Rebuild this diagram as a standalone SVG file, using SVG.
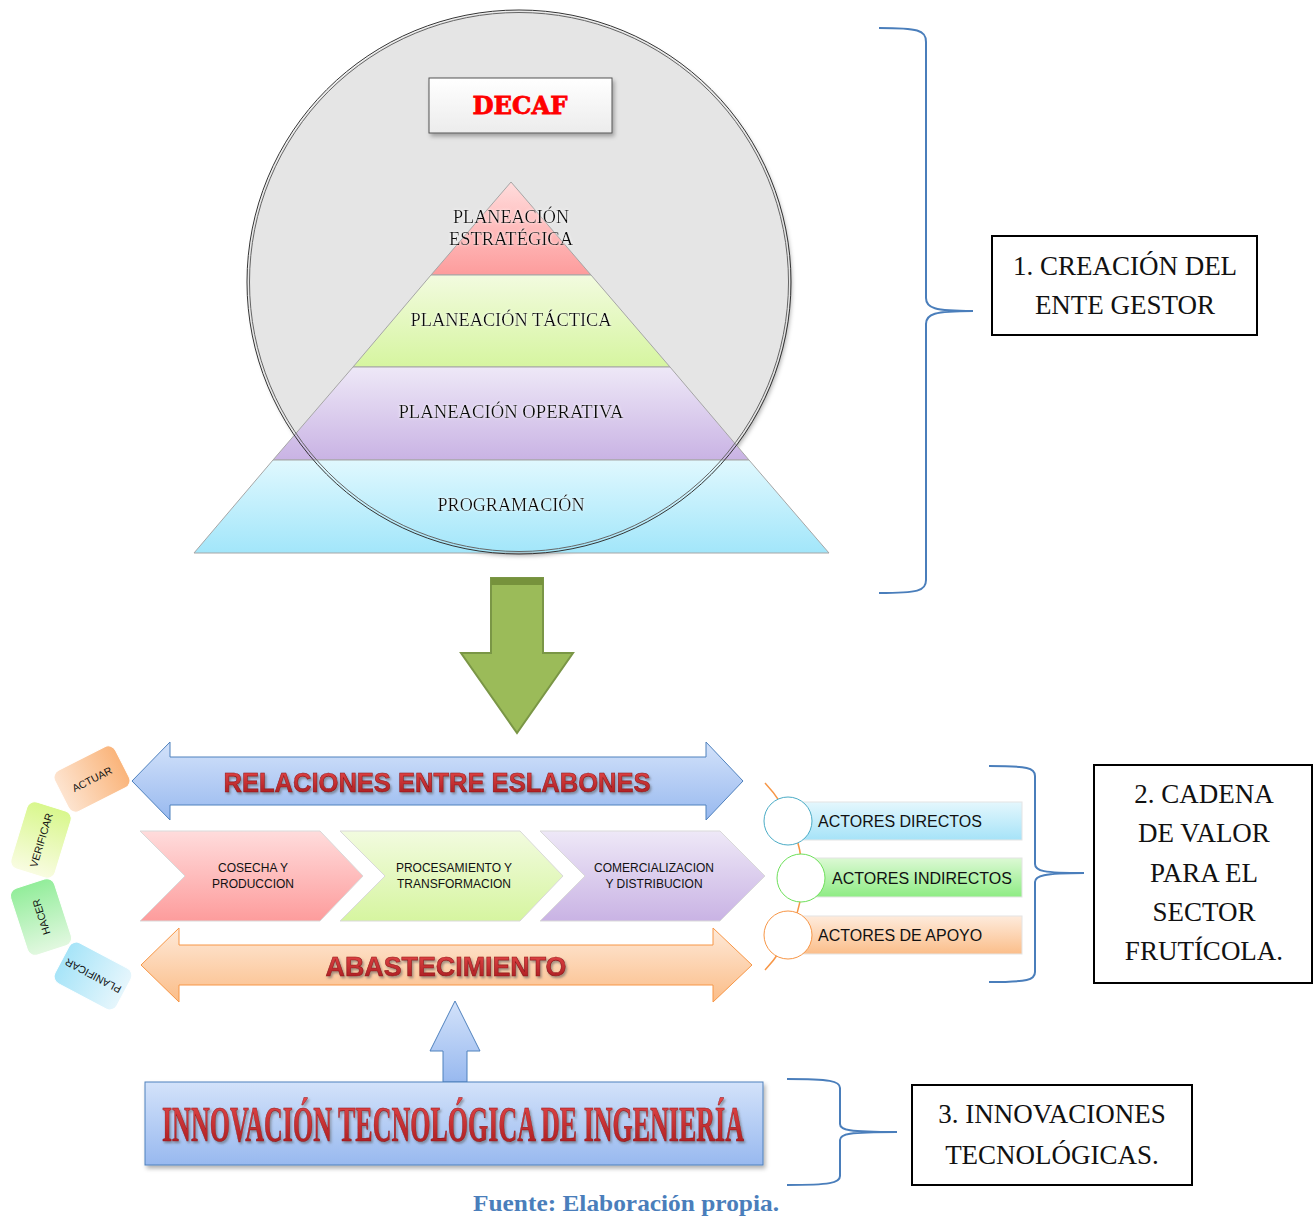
<svg xmlns="http://www.w3.org/2000/svg" width="1314" height="1216" viewBox="0 0 1314 1216">
  <defs>
    <linearGradient id="gPink" x1="0" y1="0" x2="0" y2="1"><stop offset="0" stop-color="#ffdcdc"/><stop offset="1" stop-color="#fd9c9c"/></linearGradient>
    <linearGradient id="gLime" x1="0" y1="0" x2="0" y2="1"><stop offset="0" stop-color="#f2fbdf"/><stop offset="1" stop-color="#d6f5a0"/></linearGradient>
    <linearGradient id="gLilac" x1="0" y1="0" x2="0" y2="1"><stop offset="0" stop-color="#eee8f7"/><stop offset="1" stop-color="#c9b3e4"/></linearGradient>
    <linearGradient id="gSky" x1="0" y1="0" x2="0" y2="1"><stop offset="0" stop-color="#e0f8fe"/><stop offset="1" stop-color="#a2e6fa"/></linearGradient>
    <linearGradient id="gBox" x1="0" y1="0" x2="0" y2="1"><stop offset="0" stop-color="#ffffff"/><stop offset="1" stop-color="#ececec"/></linearGradient>
    <linearGradient id="gBlue" x1="0" y1="0" x2="0" y2="1"><stop offset="0" stop-color="#d3e2fa"/><stop offset="1" stop-color="#98b9ef"/></linearGradient>
    <linearGradient id="gOrange" x1="0" y1="0" x2="0" y2="1"><stop offset="0" stop-color="#fee9d8"/><stop offset="1" stop-color="#fbbd88"/></linearGradient>
    <linearGradient id="gActBlue" x1="0" y1="0" x2="0" y2="1"><stop offset="0" stop-color="#e4f7fd"/><stop offset="1" stop-color="#a6e3f8"/></linearGradient>
    <linearGradient id="gActGreen" x1="0" y1="0" x2="0" y2="1"><stop offset="0" stop-color="#dcf9d4"/><stop offset="1" stop-color="#8eec84"/></linearGradient>
    <linearGradient id="gActOrange" x1="0" y1="0" x2="0" y2="1"><stop offset="0" stop-color="#feebdc"/><stop offset="1" stop-color="#fbbe8a"/></linearGradient>
    <linearGradient id="gCardO" x1="0" y1="0" x2="1" y2="0"><stop offset="0" stop-color="#fde4d0"/><stop offset="1" stop-color="#fab47a"/></linearGradient>
    <linearGradient id="gCardY" x1="0" y1="0" x2="1" y2="0"><stop offset="0" stop-color="#f9fce2"/><stop offset="1" stop-color="#d8f78c"/></linearGradient>
    <linearGradient id="gCardG" x1="0" y1="0" x2="1" y2="0"><stop offset="0" stop-color="#e2f8e0"/><stop offset="1" stop-color="#92ed9a"/></linearGradient>
    <linearGradient id="gCardB" x1="0" y1="0" x2="1" y2="0"><stop offset="0" stop-color="#e6f6fc"/><stop offset="1" stop-color="#a6e4f8"/></linearGradient>
    <linearGradient id="gRed" x1="0" y1="0" x2="0" y2="1"><stop offset="0" stop-color="#e8494b"/><stop offset="1" stop-color="#a3191c"/></linearGradient>
    <filter id="shadow" x="-10%" y="-10%" width="130%" height="140%">
      <feDropShadow dx="2" dy="3" stdDeviation="2" flood-color="#000" flood-opacity="0.3"/>
    </filter>
    <filter id="txtShadow" x="-5%" y="-20%" width="110%" height="150%">
      <feDropShadow dx="1.5" dy="2" stdDeviation="1" flood-color="#555" flood-opacity="0.55"/>
    </filter>
    <filter id="glow" x="-10%" y="-30%" width="120%" height="160%">
      <feDropShadow dx="0" dy="0" stdDeviation="1.5" flood-color="#fff" flood-opacity="0.9"/>
    </filter>
  </defs>
  <style>
    .layer { stroke: #a6a6a6; stroke-width: 1; }
    .pyr { font-family: "Liberation Serif", "DejaVu Serif", serif; font-size: 18px; fill: #111; text-anchor: middle; }
    .label { font-family: "Liberation Serif", "DejaVu Serif", serif; font-size: 27px; fill: #111; text-anchor: middle; }
    .frame { fill: #fff; stroke: #000; stroke-width: 2; }
    .brace { fill: none; stroke: #4a7ebb; stroke-width: 2; }
    .chev { stroke: #d9d9d9; stroke-width: 1; }
    .chevTxt { font-family: "Liberation Sans", Arial, sans-serif; font-size: 12px; fill: #111; text-anchor: middle; }
    .card { stroke: #ffffff; stroke-width: 1; }
    .cardTxt { font-family: "Liberation Sans", Arial, sans-serif; font-size: 10.5px; fill: #111; text-anchor: middle; }
    .actor { font-family: "Liberation Sans", Arial, sans-serif; font-size: 16px; fill: #111; }
    .big { font-family: "Liberation Sans", Arial, sans-serif; font-weight: bold; fill: url(#gRed); stroke: #8e1416; stroke-width: 0.6; text-anchor: middle; }
  </style>

  <!-- DECAF circle -->
  <g id="decaf-circle">
    <circle cx="519" cy="282" r="271" fill="#e5e5e5" filter="url(#shadow)"/>
  </g>

  <!-- Planning pyramid -->
  <g id="pyramid">
    <polygon class="layer" points="511,182 591,275 431,275" fill="url(#gPink)"/>
    <polygon class="layer" points="431,275 591,275 670,367 353,367" fill="url(#gLime)"/>
    <polygon class="layer" points="353,367 670,367 749,460 273,460" fill="url(#gLilac)"/>
    <polygon class="layer" points="273,460 749,460 829,553 194,553" fill="url(#gSky)"/>
    <g filter="url(#glow)">
      <text class="pyr" x="511" y="223" textLength="116" lengthAdjust="spacingAndGlyphs">PLANEACIÓN</text>
      <text class="pyr" x="511" y="245" textLength="124" lengthAdjust="spacingAndGlyphs">ESTRATÉGICA</text>
      <text class="pyr" x="511" y="326" textLength="201" lengthAdjust="spacingAndGlyphs">PLANEACIÓN  TÁCTICA</text>
      <text class="pyr" x="511" y="418" textLength="225" lengthAdjust="spacingAndGlyphs">PLANEACIÓN  OPERATIVA</text>
      <text class="pyr" x="511" y="511" textLength="147" lengthAdjust="spacingAndGlyphs">PROGRAMACIÓN</text>
    </g>
  </g>

  <!-- circle outline drawn over the pyramid (double ring) -->
  <g id="decaf-ring" fill="none" stroke="#333" stroke-width="1">
    <circle cx="519" cy="282" r="272"/>
    <circle cx="519" cy="282" r="269.5" stroke="#666"/>
  </g>

  <g id="decaf-title">
    <rect x="429" y="78" width="183" height="55" fill="url(#gBox)" stroke="#555" stroke-width="1" filter="url(#shadow)"/>
    <text x="520" y="114" font-family="'DejaVu Serif', 'Liberation Serif', serif" font-weight="bold" font-size="24" fill="#ff0000" stroke="#ff0000" stroke-width="0.8" text-anchor="middle" textLength="95" lengthAdjust="spacingAndGlyphs">DECAF</text>
  </g>

  <!-- green transition arrow -->
  <g id="down-arrow">
    <polygon points="491,578 543,578 543,653 573,653 517,733 461,653 491,653" fill="#9bbb59" stroke="#7a9646" stroke-width="2" stroke-linejoin="miter"/>
    <rect x="491" y="578" width="52" height="7" fill="#76923c"/>
  </g>

  <!-- PDCA cards -->
  <g id="pdca">
    <g id="card-actuar" transform="translate(92,779) rotate(-27)">
      <rect class="card" x="-34" y="-23" width="68" height="46" rx="8" fill="url(#gCardO)"/>
      <text class="cardTxt" x="0" y="4">ACTUAR</text>
    </g>
    <g id="card-verificar" transform="translate(41,840) rotate(-73)">
      <rect class="card" x="-35" y="-23" width="70" height="46" rx="8" fill="url(#gCardY)"/>
      <text class="cardTxt" x="0" y="4">VERIFICAR</text>
    </g>
    <g id="card-hacer" transform="translate(41,917) rotate(-108)">
      <rect class="card" x="-35" y="-23" width="70" height="46" rx="8" fill="url(#gCardG)"/>
      <text class="cardTxt" x="0" y="4">HACER</text>
    </g>
    <g id="card-planificar" transform="translate(93,976) rotate(208)">
      <rect class="card" x="-35" y="-23" width="70" height="46" rx="8" fill="url(#gCardB)"/>
      <text class="cardTxt" x="0" y="4">PLANIFICAR</text>
    </g>
  </g>

  <!-- double arrows of the value chain -->
  <g id="relaciones">
    <polygon points="132,781 170,742 170,757 706,757 706,742 743,781 706,820 706,805 170,805 170,820" fill="url(#gBlue)" stroke="#4f81bd" stroke-width="1"/>
    <text class="big" x="437" y="792" font-size="28" textLength="427" lengthAdjust="spacingAndGlyphs" filter="url(#txtShadow)">RELACIONES ENTRE ESLABONES</text>
  </g>

  <g id="abastecimiento">
    <polygon points="141,965 179,928 179,945 713,945 713,928 752,965 713,1002 713,985 179,985 179,1002" fill="url(#gOrange)" stroke="#f79646" stroke-width="1"/>
    <text class="big" x="446" y="976" font-size="28" textLength="241" lengthAdjust="spacingAndGlyphs" filter="url(#txtShadow)">ABASTECIMIENTO</text>
  </g>

  <!-- chain links -->
  <g id="chain">
    <g id="link-cosecha">
      <polygon class="chev" points="140,831 320,831 363,876 320,921 140,921 185,876" fill="url(#gPink)"/>
      <text class="chevTxt" x="253" y="872">COSECHA Y</text>
      <text class="chevTxt" x="253" y="888">PRODUCCION</text>
    </g>
    <g id="link-procesamiento">
      <polygon class="chev" points="340,831 520,831 563,876 520,921 340,921 385,876" fill="url(#gLime)"/>
      <text class="chevTxt" x="454" y="872">PROCESAMIENTO Y</text>
      <text class="chevTxt" x="454" y="888">TRANSFORMACION</text>
    </g>
    <g id="link-comercializacion">
      <polygon class="chev" points="540,831 720,831 765,876 720,921 540,921 585,876" fill="url(#gLilac)"/>
      <text class="chevTxt" x="654" y="872">COMERCIALIZACION</text>
      <text class="chevTxt" x="654" y="888">Y DISTRIBUCION</text>
    </g>
  </g>

  <!-- actors list -->
  <g id="actors">
    <path d="M765,783 A136,136 0 0 1 765,970" fill="none" stroke="#f79646" stroke-width="1.5"/>
    <g id="actor-directos">
      <rect x="800" y="802" width="222" height="38" fill="url(#gActBlue)" stroke="#e4e4e4"/>
      <circle cx="788" cy="821" r="24" fill="#fff" stroke="#4bacc6" stroke-width="1"/>
      <text class="actor" x="818" y="827">ACTORES DIRECTOS</text>
    </g>
    <g id="actor-indirectos">
      <rect x="813" y="858" width="209" height="39" fill="url(#gActGreen)" stroke="#e4e4e4"/>
      <circle cx="801" cy="878" r="24" fill="#fff" stroke="#6ee05a" stroke-width="1"/>
      <text class="actor" x="832" y="884">ACTORES INDIRECTOS</text>
    </g>
    <g id="actor-apoyo">
      <rect x="800" y="916" width="222" height="38" fill="url(#gActOrange)" stroke="#e4e4e4"/>
      <circle cx="788" cy="935" r="24" fill="#fff" stroke="#f79646" stroke-width="1"/>
      <text class="actor" x="818" y="941">ACTORES DE APOYO</text>
    </g>
  </g>

  <!-- technology innovation block -->
  <g id="innovacion">
    <polygon points="455,1001 480,1051 467,1051 467,1082 443,1082 443,1051 430,1051" fill="url(#gBlue)" stroke="#4f81bd" stroke-width="1"/>
    <rect x="145" y="1082" width="618" height="83" fill="url(#gBlue)" stroke="#4f81bd" stroke-width="1" filter="url(#shadow)"/>
    <text x="453" y="1141" font-family="'Liberation Serif', 'DejaVu Serif', serif" font-weight="bold" font-size="50" fill="url(#gRed)" stroke="#8e1416" stroke-width="0.6" text-anchor="middle" textLength="582" lengthAdjust="spacingAndGlyphs" filter="url(#txtShadow)">INNOVACIÓN TECNOLÓGICA DE INGENIERÍA</text>
  </g>

  <!-- braces -->
  <g id="connectors">
    <path class="brace" d="M879,28 C918,28 926,30 926,42 L926,298 C926,308 934,311 973,311 C934,311 926,314 926,324 L926,580 C926,591 918,593 879,593"/>
    <path class="brace" d="M989,766 C1028,766 1035,768 1035,776 L1035,864 C1035,871 1043,873 1084,873 C1043,873 1035,876 1035,882 L1035,972 C1035,980 1028,982 989,982"/>
    <path class="brace" d="M787,1079 C830,1079 840,1081 840,1088 L840,1124 C840,1130 848,1132 897,1132 C848,1132 840,1134 840,1140 L840,1176 C840,1183 830,1185 787,1185"/>
  </g>

  <!-- stage labels -->
  <g id="stage-1">
    <rect class="frame" x="992" y="236" width="265" height="99"/>
    <text class="label" x="1125" y="275">1. CREACIÓN DEL</text>
    <text class="label" x="1125" y="314">ENTE GESTOR</text>
  </g>
  <g id="stage-2">
    <rect class="frame" x="1094" y="765" width="218" height="218"/>
    <text class="label" x="1204" y="803">2. CADENA</text>
    <text class="label" x="1204" y="842">DE VALOR</text>
    <text class="label" x="1204" y="882">PARA EL</text>
    <text class="label" x="1204" y="921">SECTOR</text>
    <text class="label" x="1204" y="960">FRUTÍCOLA.</text>
  </g>
  <g id="stage-3">
    <rect class="frame" x="912" y="1085" width="280" height="100"/>
    <text class="label" x="1052" y="1123" font-size="26">3. INNOVACIONES</text>
    <text class="label" x="1052" y="1164" font-size="26">TECNOLÓGICAS.</text>
  </g>

  <text id="caption" x="626" y="1211" font-family="'Liberation Serif', 'DejaVu Serif', serif" font-weight="bold" font-size="24" fill="#4a7ebb" text-anchor="middle" textLength="306" lengthAdjust="spacingAndGlyphs">Fuente: Elaboración propia.</text>
</svg>
